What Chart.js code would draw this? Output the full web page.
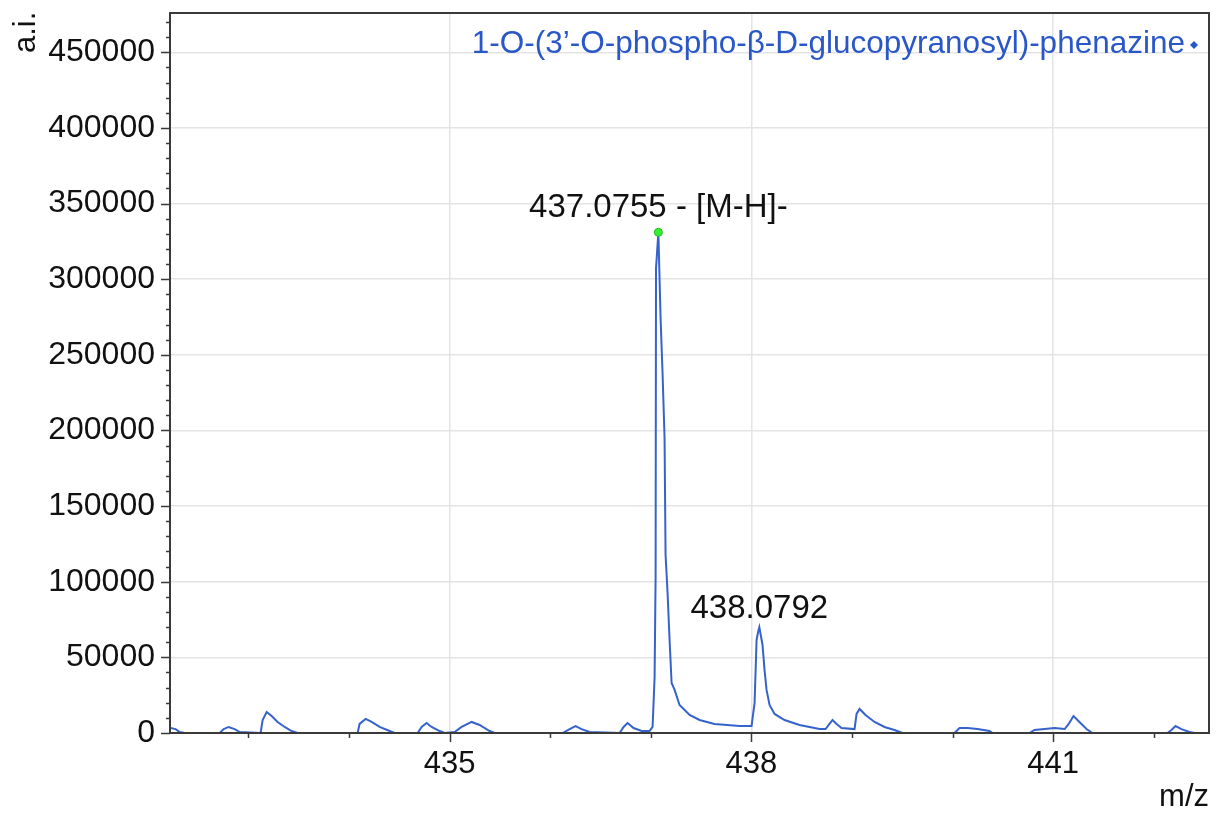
<!DOCTYPE html>
<html lang="en">
<head>
    <meta charset="utf-8" />
    <title>Mass spectrum</title>
    <style>
        body {
            margin: 0;
            background: #ffffff;
        }
        #wrap {
            width: 1217px;
            height: 814px;
            position: relative;
        }
    </style>
</head>
<body>
    <div id="wrap">
        <canvas id="myChart"></canvas>
    </div>

    <script src="https://cdn.jsdelivr.net/npm/chart.js@4.4.1/dist/chart.umd.min.js"></script>
    <script type="text/JavaScript">

        // spectrum trace (m/z, intensity) read off the picture
        var mz = [432.227, 432.276, 432.316, 432.366, 432.714, 432.754, 432.803, 432.863, 432.913,
            433.121, 433.141, 433.181, 433.231, 433.290, 433.360, 433.429, 433.489,
            434.085, 434.105, 434.165, 434.225, 434.304, 434.404, 434.453,
            434.682, 434.722, 434.771, 434.821, 434.901, 434.950,
            435.050, 435.119, 435.219, 435.298, 435.398, 435.447,
            436.123, 436.193, 436.252, 436.312, 436.392,
            436.690, 436.730, 436.769, 436.829, 436.909, 436.988, 437.018, 437.038, 437.048, 437.052,
            437.0755, 437.097, 437.117, 437.137, 437.147, 437.167, 437.187, 437.207, 437.237,
            437.286, 437.386, 437.485, 437.634, 437.883, 438.002,
            438.032, 438.052, 438.067, 438.0792, 438.111, 438.131, 438.151, 438.181, 438.231,
            438.330, 438.479, 438.678, 438.738, 438.777, 438.807, 438.847, 438.897,
            439.026, 439.046, 439.076, 439.135, 439.225, 439.324, 439.423, 439.503,
            440.020, 440.070, 440.149, 440.249, 440.368, 440.398,
            440.765, 440.815, 440.915, 441.015, 441.115, 441.155, 441.203, 441.262, 441.332, 441.392,
            442.137, 442.177, 442.217, 442.276, 442.356, 442.406, 442.505];
        var intensity = [3300, 2600, 660, 0, 0, 2600, 4000, 2600, 660,
            0, 8600, 13900, 11200, 7300, 4000, 1300, 0,
            0, 6000, 9300, 7300, 4000, 1300, 0,
            0, 4000, 6600, 4000, 1300, 0,
            660, 4000, 7300, 5300, 1300, 0,
            0, 2600, 4600, 2600, 660,
            0, 4000, 6600, 3300, 1300, 1300, 4000, 37000, 103200, 307000,
            331000, 275300, 238200, 195200, 117800, 92600, 61500, 33100, 28500,
            18500, 11900, 8600, 6000, 4600, 4600,
            19900, 61500, 66800, 70000, 58200, 41700, 28500, 18500, 12600,
            8600, 5300, 2600, 2600, 6000, 8600, 6000, 3300,
            2600, 12600, 15900, 11900, 7300, 4000, 2000, 0,
            0, 3300, 3300, 2600, 1300, 0,
            0, 2000, 2600, 3300, 2600, 6000, 11200, 7300, 2600, 0,
            0, 2000, 4600, 2600, 660, 0, 0];

        var seriesName = "1-O-(3\u2019-O-phospho-\u03b2-D-glucopyranosyl)-phenazine";

        // annotated peaks
        var peakMz = [437.0755, 438.0792];
        var peakIntensity = [331000, 70000];
        var peakLabels = ["437.0755 - [M-H]-", "438.0792"];
        var peakMarked = [true, false];

        // axis ticks
        var xMajor = [435, 438, 441];
        var xMinor = [433, 434, 436, 437, 439, 440, 442];
        var yMajor = [0, 50000, 100000, 150000, 200000, 250000, 300000, 350000, 400000, 450000];
        var yMinorStep = 10000;
        var yMax = 476000;

        var FONT = "'Liberation Sans', Arial, sans-serif";
        var traceColor = "#3662cc";
        var textBlue = "#2a57c8";
        var frameColor = "#3a3a3a";
        var gridColor = "#e4e4e4";

        var points = [];
        for (var i = 0; i < mz.length; i++) {
            points.push({ x: mz[i], y: intensity[i] });
        }
        var markedPoints = [];
        for (var j = 0; j < peakMz.length; j++) {
            if (peakMarked[j]) markedPoints.push({ x: peakMz[j], y: peakIntensity[j] });
        }

        var yAll = [];
        for (var v = 0; v < yMax; v += yMinorStep) yAll.push(v);
        var xAll = xMajor.concat(xMinor).sort(function (a, b) { return a - b; });

        var decorPlugin = {
            id: 'decor',
            afterDatasetsDraw: function (chart) {
                var c = chart.ctx;
                var a = chart.chartArea;
                var xs = chart.scales.x, ys = chart.scales.y;
                c.save();

                // frame
                c.strokeStyle = frameColor;
                c.lineWidth = 2;
                c.strokeRect(a.left, a.top, a.right - a.left, a.bottom - a.top);

                // tick marks
                c.lineWidth = 1.5;
                c.beginPath();
                yAll.forEach(function (val) {
                    var py = Math.round(ys.getPixelForValue(val)) + 0.5;
                    var len = yMajor.indexOf(val) >= 0 ? 9 : 4;
                    c.moveTo(a.left - len, py);
                    c.lineTo(a.left, py);
                });
                xAll.forEach(function (val) {
                    var px = Math.round(xs.getPixelForValue(val)) + 0.5;
                    var len = xMajor.indexOf(val) >= 0 ? 9 : 5;
                    c.moveTo(px, a.bottom);
                    c.lineTo(px, a.bottom + len);
                });
                c.stroke();

                // peak labels
                c.fillStyle = "#111111";
                c.font = "33px " + FONT;
                c.textAlign = "center";
                c.textBaseline = "middle";
                var offsets = [24, 18];
                for (var k = 0; k < peakMz.length; k++) {
                    var lx = xs.getPixelForValue(peakMz[k]);
                    var ly = ys.getPixelForValue(peakIntensity[k]) - offsets[k];
                    c.fillText(peakLabels[k], lx, ly);
                }

                // series label, top right
                c.font = "31.5px " + FONT;
                c.fillStyle = textBlue;
                c.textAlign = "right";
                c.fillText(seriesName, a.right - 24, 44);
                var dx = a.right - 15, dy = 45;
                c.beginPath();
                c.moveTo(dx, dy - 4);
                c.lineTo(dx + 4, dy);
                c.lineTo(dx, dy + 4);
                c.lineTo(dx - 4, dy);
                c.closePath();
                c.fill();

                // axis titles
                c.font = "31px " + FONT;
                c.fillStyle = "#111111";
                c.textAlign = "right";
                c.textBaseline = "alphabetic";
                c.fillText("m/z", a.right, 806);
                c.translate(35, 53);
                c.rotate(-Math.PI / 2);
                c.textAlign = "left";
                c.fillText("a.i.", 0, 0);

                c.restore();
            }
        };

        var ctx = document.getElementById("myChart");
        var myChart = new Chart(ctx, {
            type: 'line',
            data: {
                datasets: [{
                    label: 'peak',
                    type: 'scatter',
                    data: markedPoints,
                    pointRadius: 4,
                    pointBackgroundColor: '#33ee33',
                    pointBorderColor: '#22bb22',
                    pointBorderWidth: 1,
                    order: 0
                }, {
                    label: seriesName,
                    data: points,
                    borderColor: traceColor,
                    borderWidth: 2,
                    pointRadius: 0,
                    tension: 0,
                    fill: false,
                    order: 1
                }]
            },
            options: {
                responsive: true,
                maintainAspectRatio: false,
                animation: false,
                layout: {
                    padding: { top: 13, right: 8, left: 0, bottom: 0 }
                },
                plugins: {
                    legend: { display: false },
                    tooltip: { enabled: false }
                },
                scales: {
                    x: {
                        type: 'linear',
                        min: 432.22,
                        max: 442.55,
                        afterBuildTicks: function (scale) {
                            scale.ticks = xMajor.map(function (t) { return { value: t }; });
                        },
                        afterFit: function (scale) {
                            scale.height = 81;
                            scale.paddingLeft = 0;
                            scale.paddingRight = 0;
                        },
                        ticks: {
                            autoSkip: false,
                            maxRotation: 0,
                            padding: 13,
                            color: '#111111',
                            font: { family: FONT, size: 31 },
                            callback: function (value) { return String(value); }
                        },
                        grid: {
                            color: gridColor,
                            lineWidth: 1.5,
                            drawTicks: false
                        },
                        border: { display: false }
                    },
                    y: {
                        type: 'linear',
                        min: 0,
                        max: yMax,
                        afterBuildTicks: function (scale) {
                            scale.ticks = yMajor.map(function (t) { return { value: t }; });
                        },
                        afterFit: function (scale) {
                            scale.width = 170;
                            scale.paddingTop = 0;
                            scale.paddingBottom = 0;
                        },
                        ticks: {
                            autoSkip: false,
                            padding: 15,
                            color: '#111111',
                            font: { family: FONT, size: 32 },
                            callback: function (value) { return String(value); }
                        },
                        grid: {
                            color: gridColor,
                            lineWidth: 1.5,
                            drawTicks: false
                        },
                        border: { display: false }
                    }
                }
            },
            plugins: [decorPlugin]
        });
    </script>
</body>
</html>
